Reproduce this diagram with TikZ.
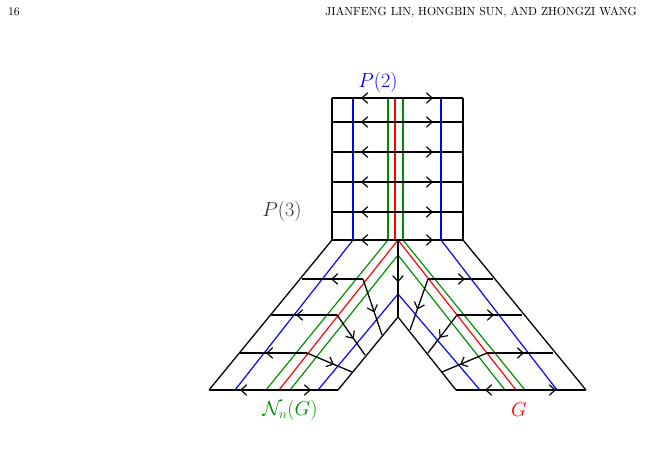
\documentclass[tikz,border=0pt]{standalone}
\usetikzlibrary{arrows.meta,decorations.markings}
\begin{document}
\begin{tikzpicture}
    [x=0.03cm, y=-0.03cm,
    edge/.style={draw=black, line width=1.1pt},
    strand/.style={line width=1pt},
    tip/.style={-{Straight Barb[length=5pt,width=9pt,line width=1pt]}, line width=1.1pt},
    midtip/.style={edge, postaction={decorate}, decoration={markings,
        mark=at position #1 with {\arrow{Straight Barb[length=5pt,width=9pt,line width=1pt]}}}},
    lbl/.style={font=\fontsize{16}{18}\selectfont}]
    \useasboundingbox (0,0) rectangle (645,448);
    % header
    \node[anchor=west] (page) at (4,12) {\fontsize{10}{12}\selectfont 16};
    \node[anchor=east] (head) at (641,12) {\fontsize{10}{12}\selectfont JIANFENG LIN, HONGBIN SUN, AND ZHONGZI WANG};
    % key points
    \coordinate (tl) at (332,98);
    \coordinate (tr) at (463,98);
    \coordinate (bl) at (332,240);
    \coordinate (br) at (463,240);
    \coordinate (mid) at (398,240);
    \coordinate (notch) at (398,317);
    \coordinate (lout) at (209,390);
    \coordinate (lin) at (338,390);
    \coordinate (rout) at (586,390);
    \coordinate (rin) at (456,390);
    % colored strands, top block
    \draw[strand, blue] (353,98) -- (353,240);
    \draw[strand, green!55!black] (388,98) -- (388,240);
    \draw[strand, red] (395,98) -- (395,240);
    \draw[strand, green!55!black] (403,98) -- (403,240);
    \draw[strand, blue] (441,98) -- (441,240);
    % colored strands, legs
    \draw[strand, blue] (353,240) -- (235,390);
    \draw[strand, green!55!black] (388,240) -- (266,390);
    \draw[strand, red] (mid) -- (279,390);
    \draw[strand, green!55!black] (398,255) -- (290,390);
    \draw[strand, blue] (398,294) -- (318,390);
    \draw[strand, blue] (441,240) -- (557,390);
    \draw[strand, green!55!black] (403,240) -- (525,390);
    \draw[strand, red] (mid) -- (516,390);
    \draw[strand, green!55!black] (398,255) -- (505,390);
    \draw[strand, blue] (398,294) -- (480,390);
    % outline
    \draw[edge] (tl) -- (bl) (tr) -- (br);
    \draw[edge] (bl) -- (lout) (lin) -- (notch) -- (rin) (br) -- (rout);
    \draw[midtip=0.55] (mid) -- (notch);
    % rows of the top block
    \foreach \y in {98,122,152,182,212,240} {
        \draw[edge] (332,\y) -- (463,\y);
        \draw[tip] (372,\y) -- (361,\y);
        \draw[tip] (422,\y) -- (433,\y);
    }
    % bottom edges
    \draw[edge] (lout) -- (lin);
    \draw[tip] (250,390) -- (240,390);
    \draw[tip] (301,390) -- (311,390);
    \draw[edge] (rin) -- (rout);
    \draw[tip] (495,390) -- (485,390);
    \draw[tip] (546,390) -- (556,390);
    % rungs of the left leg
    \foreach \a/\b/\c/\t in {302/279/363/333, 271/315/337/298, 240/353/307/268} {
        \draw[edge] (\a,\b) -- (\c,\b);
        \draw[tip] (\t+9,\b) -- (\t-2,\b);
    }
    \draw[midtip=0.6] (363,279) -- (382,335);
    \draw[midtip=0.6] (337,315) -- (365,355);
    \draw[midtip=0.6] (307,353) -- (352,372);
    % rungs of the right leg
    \foreach \a/\b/\c/\t in {428/279/493/463, 457/315/522/492, 487/353/553/522} {
        \draw[edge] (\a,\b) -- (\c,\b);
        \draw[tip] (\t-9,\b) -- (\t+2,\b);
    }
    \draw[midtip=0.6] (428,279) -- (410,330);
    \draw[midtip=0.6] (457,315) -- (428,353);
    \draw[midtip=0.6] (487,353) -- (442,372);
    % labels
    \node[lbl, blue] (ptwo) at (378,82) {$P(2)$};
    \node[lbl, black!80] (pthree) at (282,211) {$P(3)$};
    \node[lbl, green!55!black] (nbhd) at (290,410) {$\mathcal{N}_n(G)$};
    \node[lbl, red] (gee) at (519,410) {$G$};
\end{tikzpicture}
\end{document}
